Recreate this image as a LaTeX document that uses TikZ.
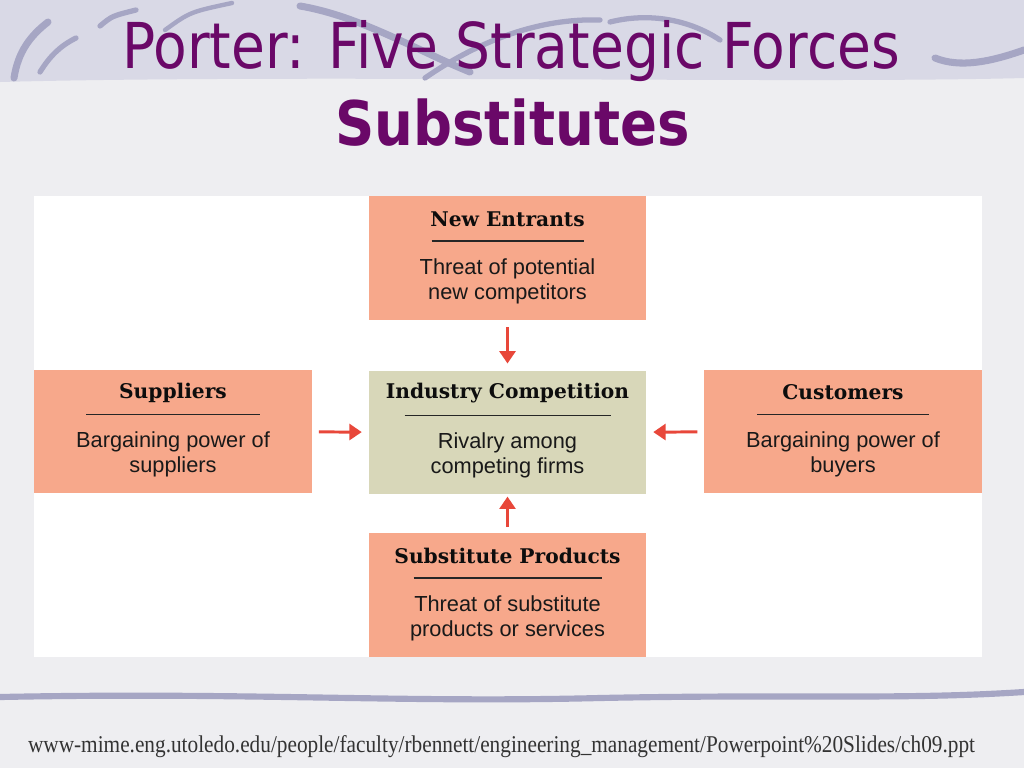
\documentclass[tikz,border=0pt]{standalone}
\usepackage{fontspec}
\setmainfont{Liberation Sans}
\newfontfamily\headfont{DejaVu Serif}
\newfontfamily\titlefont{DejaVu Sans}
\newfontfamily\srcfont{Liberation Serif}
\usepackage{graphicx}
\usepackage{xcolor}
\usepackage{tikz}
\usetikzlibrary{arrows.meta,calc,positioning}

\definecolor{salmon}{HTML}{F7A88B}
\definecolor{khaki}{HTML}{D8D7B9}
\definecolor{plum}{HTML}{6A0868}
\definecolor{arrowred}{HTML}{E8473A}
\definecolor{band}{HTML}{D9D9E6}
\definecolor{swoosh}{HTML}{A6A6C4}
\definecolor{paper}{HTML}{EEEEF1}

\begin{document}
\begin{tikzpicture}[x=0.02cm, y=-0.02cm, >={Triangle[width=9pt,length=7pt]}, thick]
      \tikzstyle{force}=[draw=none, inner sep=0pt, outer sep=0pt, minimum width=5.55cm, minimum height=2.48cm]
      \tikzstyle{head}=[font=\headfont\bfseries\fontsize{11.5}{13}\selectfont, text=black!95, inner sep=0pt]
      \tikzstyle{body}=[font=\fontsize{12.4}{14.2}\selectfont, text=black!90, align=center, inner sep=0pt]
      \tikzstyle{push}=[->, draw=arrowred, fill=arrowred, line width=1.7pt, shorten <=4pt, shorten >=4pt]
      \tikzstyle{wave}=[draw=swoosh, line cap=round]

      % slide background
      \useasboundingbox (0,0) rectangle (1024,768);
      \fill[paper] (0,0) rectangle (1024,768);
      \fill[band] (0,0) -- (1024,0) -- (1024,78) .. controls (800,84) and (300,74) .. (0,82) -- cycle;
      \draw[wave, line width=4pt] (14,78) .. controls (18,52) and (30,36) .. (48,22);
      \draw[wave, line width=3pt] (40,72) .. controls (50,56) and (60,46) .. (76,38);
      \draw[wave, line width=3pt] (100,26) .. controls (112,16) .. (136,10);
      \draw[wave, line width=2.5pt] (165,30) .. controls (190,12) .. (232,3);
      \draw[wave, line width=4pt] (300,6) .. controls (360,16) and (420,52) .. (470,72);
      \draw[wave, line width=3pt] (425,78) .. controls (480,40) and (540,18) .. (600,20);
      \draw[wave, line width=3pt] (610,22) .. controls (650,12) and (690,20) .. (720,40);
      \draw[wave, line width=4pt] (935,58) .. controls (960,68) and (990,62) .. (1024,50);
      \fill[white] (34,196) rectangle (982,657);
      \draw[wave, line width=3.5pt] (0,697) .. controls (250,692) and (400,703) .. (600,698) .. controls (800,694) and (900,700) .. (1024,692);

      % titles
      \node[font=\titlefont\fontsize{36}{40}\selectfont, text=plum, anchor=base, inner sep=0pt] (title) at (511,68) {\resizebox{15.56cm}{\height}{Porter: Five Strategic Forces}};
      \node[font=\titlefont\bfseries\fontsize{35}{40}\selectfont, text=plum, anchor=base, inner sep=0pt] (subtitle) at (512.5,145) {\resizebox{7.1cm}{\height}{Substitutes}};

      % the five forces
      \foreach \nm/\cx/\cy/\col/\hd/\rw/\bd in {
          ne/507.5/258/salmon/New Entrants/76/{Threat of potential\\new competitors},
          sup/173/431.5/salmon/Suppliers/87/{Bargaining power of\\suppliers},
          ind/507.5/432.5/khaki/Industry Competition/103/{Rivalry among\\competing firms},
          cus/843/431.5/salmon/Customers/86/{Bargaining power of\\buyers},
          sub/507.5/595/salmon/Substitute Products/94/{Threat of substitute\\products or services}}
      {
        \node[force, fill=\col] (\nm) at (\cx,\cy) {};
        \node[head] (\nm-head) at ($(\nm)+(0,-39)$) {\hd};
        \draw[line width=0.9pt, black!85] ($(\nm)+(-\rw,-17)$) -- ($(\nm)+(\rw,-17)$);
        \node[body] (\nm-body) at ($(\nm)+(0,23)$) {\bd};
      }

      \draw[push] (ne) -- (ind);
      \draw[push] (sup) -- (ind);
      \draw[push] (cus) -- (ind);
      \draw[push, shorten <=3.4pt, shorten >=1.2pt] (sub) -- (ind);

      % source line
      \node[font=\srcfont\fontsize{13.7}{16}\selectfont, text=black!80, anchor=base, inner sep=0pt] (source) at (501.5,752) {\resizebox{18.94cm}{\height}{www-mime.eng.utoledo.edu/people/faculty/rbennett/engineering\_management/Powerpoint\%20Slides/ch09.ppt}};

\end{tikzpicture}
\end{document}
